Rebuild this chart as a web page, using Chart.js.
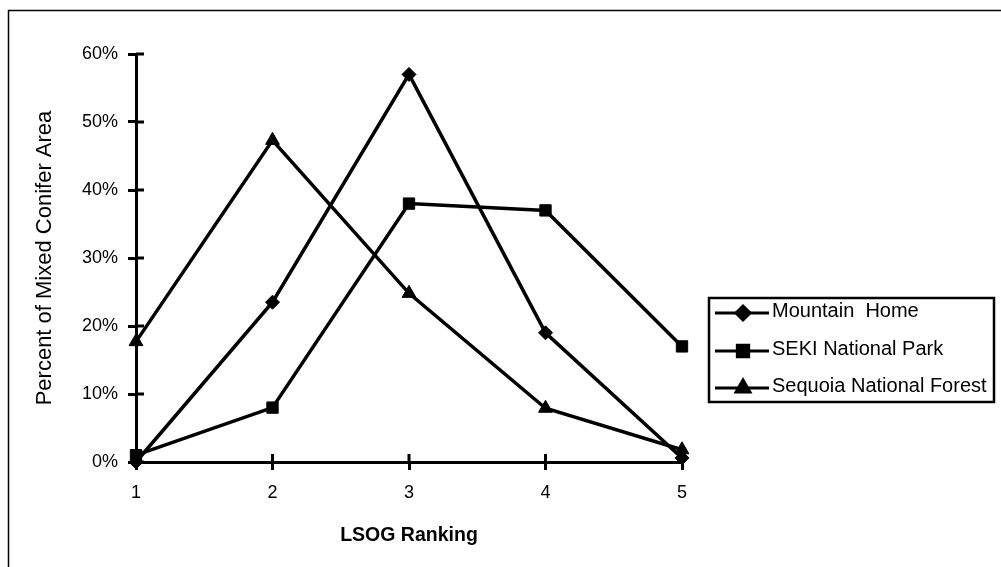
<!DOCTYPE html>
<html>
<head>
<meta charset="utf-8">
<script src="https://cdn.jsdelivr.net/npm/chart.js@4.4.0/dist/chart.umd.min.js"></script>
<style>
  html, body { margin: 0; padding: 0; background: #fff; }
  #wrap { position: relative; width: 1001px; height: 567px; }
  canvas { display: block; }
</style>
</head>
<body>
<div id="wrap"><canvas id="c" width="1001" height="567"></canvas></div>
<script>
const categories = [1, 2, 3, 4, 5];
const seriesNames = ['Mountain  Home', 'SEKI National Park', 'Sequoia National Forest'];
const mountainHome = [0, 23.5, 57, 19, 0.6];
const sekiPark = [1, 8, 38, 37, 17];
const sequoiaForest = [17.7, 47.3, 24.8, 7.9, 1.8];
const yTicks = [0, 10, 20, 30, 40, 50, 60];
const markerStyles = ['rectRot', 'rect', 'triangle'];
const markerRadii = [7, 8, 8];

const FONT = '"Liberation Sans", Arial, Helvetica, sans-serif';

function pts(vals) { return categories.map((c, i) => ({ x: c, y: vals[i] })); }

const allSeries = [mountainHome, sekiPark, sequoiaForest];
const datasets = allSeries.map((vals, i) => ({
  label: seriesNames[i],
  data: pts(vals),
  borderColor: '#000',
  backgroundColor: '#000',
  borderWidth: 3.5,
  pointStyle: markerStyles[i],
  pointRadius: markerRadii[i],
  pointBorderWidth: 1,
  pointBorderColor: '#000',
  pointBackgroundColor: '#000',
  tension: 0,
  clip: false
}));

// Draws inner half of crossing tick marks, outer frame lines, and legend box
const extras = {
  id: 'extras',
  afterDraw(chart) {
    const ctx = chart.ctx;
    const xs = chart.scales.x, ys = chart.scales.y;
    ctx.save();
    ctx.strokeStyle = '#000';
    ctx.lineWidth = 3;
    ys.ticks.forEach(t => {
      const py = ys.getPixelForValue(t.value);
      ctx.beginPath(); ctx.moveTo(xs.left, py); ctx.lineTo(xs.left + 8, py); ctx.stroke();
    });
    xs.ticks.forEach(t => {
      const px = xs.getPixelForValue(t.value);
      ctx.beginPath(); ctx.moveTo(px, ys.bottom); ctx.lineTo(px, ys.bottom - 8); ctx.stroke();
    });
    // page frame (top & left)
    ctx.lineWidth = 1.5;
    ctx.beginPath();
    ctx.moveTo(8.5, 567); ctx.lineTo(8.5, 10.5); ctx.lineTo(1001, 10.5);
    ctx.stroke();
    // legend box
    const bx = 709, by = 298, bw = 285, bh = 104;
    ctx.lineWidth = 2.5;
    ctx.strokeRect(bx, by, bw, bh);
    ctx.beginPath(); ctx.rect(bx, by, bw - 1, bh); ctx.clip();
    const rows = [313, 351, 388];
    chart.data.datasets.forEach((ds, i) => {
      const yy = rows[i];
      ctx.lineWidth = 3;
      ctx.beginPath(); ctx.moveTo(715, yy); ctx.lineTo(769, yy); ctx.stroke();
      ctx.fillStyle = '#000';
      Chart.helpers.drawPoint(ctx, { pointStyle: ds.pointStyle, radius: ds.pointRadius, borderWidth: 1 }, 743, yy);
      ctx.fill();
      ctx.font = '20px ' + FONT;
      ctx.textBaseline = 'middle';
      ctx.textAlign = 'left';
      ctx.fillText(ds.label, 772, yy - 2);
    });
    ctx.restore();
  }
};

new Chart(document.getElementById('c'), {
  type: 'line',
  data: { datasets },
  options: {
    responsive: false,
    animation: false,
    layout: { padding: { left: 0, right: 319, top: 54, bottom: 0 } },
    plugins: { legend: { display: false }, tooltip: { enabled: false } },
    scales: {
      x: {
        type: 'linear',
        min: 1, max: 5,
        afterFit(s) { s.height = 105; },
        ticks: { stepSize: 1, color: '#000', font: { family: FONT, size: 18 }, padding: 12 },
        grid: { drawOnChartArea: false, drawTicks: true, tickLength: 8, color: '#000', lineWidth: 3 },
        border: { display: true, color: '#000', width: 3 },
        title: { display: true, text: 'LSOG Ranking', color: '#000', font: { family: FONT, size: 19.5, weight: 'bold' }, padding: { top: 4, bottom: 20 } }
      },
      y: {
        min: 0, max: 60,
        afterFit(s) { s.width = 136; },
        afterBuildTicks(s) { s.ticks = yTicks.map(v => ({ value: v })); },
        ticks: { color: '#000', font: { family: FONT, size: 18 }, padding: 10, callback: v => v + '%' },
        grid: { drawOnChartArea: false, drawTicks: true, tickLength: 8, color: '#000', lineWidth: 3 },
        border: { display: true, color: '#000', width: 3 },
        title: { display: true, text: 'Percent of Mixed Conifer Area', color: '#000', font: { family: FONT, size: 22 }, padding: { top: 32 } }
      }
    }
  },
  plugins: [extras]
});
</script>
</body>
</html>
